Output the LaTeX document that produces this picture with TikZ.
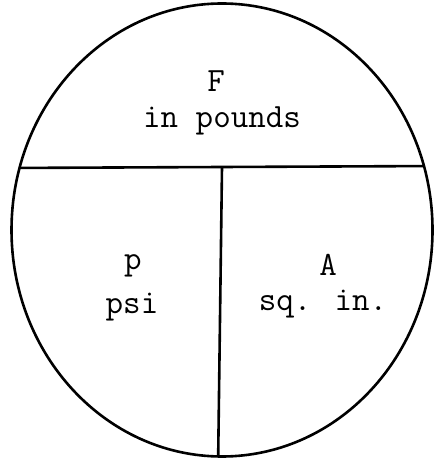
\documentclass[tikz,border=0pt]{standalone}
\begin{document}
\begin{tikzpicture}[x=0.5pt,y=-0.5pt,
  rim/.style={line width=1.3pt},
  lbl/.style={anchor=base,inner sep=0pt,font=\ttfamily\fontsize{17}{20}\selectfont}]
\useasboundingbox (0,0) rectangle (434,458);
\coordinate (c) at (222,230);
\draw[rim] (c) ellipse [x radius=210.5, y radius=226.5];
\coordinate (hl) at (5,168);
\coordinate (hr) at (440,166);
\coordinate (vt) at (222,167);
\coordinate (vb) at (218,470);
\begin{scope}
  \clip (c) ellipse [x radius=211, y radius=227];
  \draw[rim] (hl) -- (hr);
  \draw[rim] (vt) -- (vb);
\end{scope}
\node[lbl] (F) at (216,92) {F};
\node[lbl] (Fu) at (222,128) {in pounds};
\node[lbl] (p) at (133,270) {p};
\node[lbl] (pu) at (132,313) {psi};
\node[lbl] (A) at (328,275) {A};
\node[lbl] (Au) at (323,310) {sq. in.};
\end{tikzpicture}
\end{document}
